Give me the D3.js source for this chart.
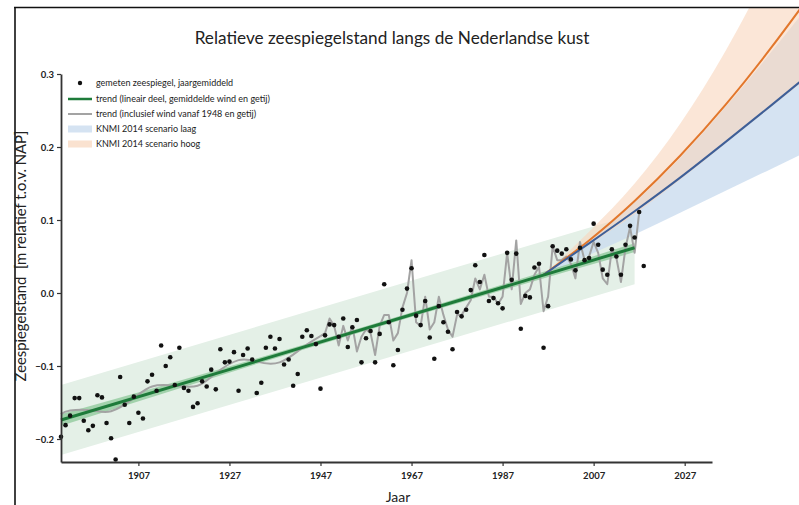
<!DOCTYPE html>
<html><head><meta charset="utf-8">
<script src="https://cdn.jsdelivr.net/npm/d3@7"></script>
<style>
body{margin:0;background:#fff;}
text{font-family:Lato,"Open Sans",sans-serif;}
</style></head>
<body><svg id="c" width="799" height="505"></svg>
<script>
// ---------- DATA ----------
const firstYear = 1890;
// annual mean sea level (m relative to NAP), 1890..2018
const measured = [
-0.197,-0.181,-0.168,-0.144,-0.144,-0.175,-0.188,-0.182,-0.140,-0.143,
-0.178,-0.199,-0.228,-0.115,-0.153,-0.178,-0.142,-0.164,-0.172,-0.121,
-0.112,-0.134,-0.072,-0.100,-0.088,-0.126,-0.075,-0.130,-0.134,-0.156,
-0.151,-0.121,-0.128,-0.105,-0.132,-0.077,-0.095,-0.094,-0.081,-0.134,
-0.085,-0.076,-0.091,-0.137,-0.123,-0.075,-0.060,-0.076,-0.063,-0.098,
-0.091,-0.127,-0.111,-0.060,-0.051,-0.059,-0.070,-0.131,-0.058,-0.043,
-0.044,-0.060,-0.035,-0.074,-0.047,-0.037,-0.095,-0.062,-0.052,-0.095,
-0.056, 0.012,-0.040,-0.099,-0.078,-0.023, 0.006, 0.034,-0.031,-0.044,
-0.011,-0.061,-0.090,-0.018,-0.040,-0.053,-0.077,-0.026,-0.032,-0.023,
 0.004, 0.038, 0.015, 0.052,-0.011,-0.007,-0.014,-0.021, 0.055, 0.018,
 0.054,-0.049,-0.004,-0.006, 0.035, 0.040,-0.075,-0.018, 0.064, 0.058,
 0.054, 0.060, 0.046, 0.031, 0.062, 0.045, 0.048, 0.095, 0.066, 0.032,
 0.025, 0.060, 0.050, 0.025, 0.066, 0.092, 0.076, 0.111, 0.037];

// linear trend (end points) and its band
const trendYears = [1890, 2016];
const trendValues = [-0.174, 0.062];
const trendBandLow = [-0.222, 0.012];
const trendBandHigh = [-0.126, 0.108];
const trendConfYears = [1890, 1950, 2016];
const trendConfHalf = [0.008, 0.003, 0.006];

// trend including nodal cycle (smooth before 1948) and wind (from 1948)
const nodalYears = [1890,1892,1897,1901,1906,1910,1915,1920,1924,1929,1933,1938,1943,1947];
const nodalValues = [-0.166,-0.161,-0.161,-0.162,-0.144,-0.128,-0.127,-0.127,-0.110,-0.092,-0.094,-0.095,-0.075,-0.059];
const windFirstYear = 1948;
const windValues = [
-0.055,-0.035,-0.045,-0.072,-0.045,-0.065,-0.045,-0.080,-0.060,-0.050,
-0.055,-0.085,-0.045,-0.030,-0.030,-0.065,-0.055,-0.020, 0.000, 0.045,
-0.040,-0.045,-0.005,-0.050,-0.040,-0.005,-0.030,-0.050,-0.060,-0.030,
-0.030,-0.020,-0.010, 0.020, 0.005, 0.025,-0.005,-0.005,-0.015,-0.005,
 0.055, 0.005, 0.072,-0.015, 0.000, 0.005, 0.025, 0.036,-0.025,-0.005,
 0.064, 0.045, 0.045, 0.050, 0.040, 0.020, 0.070, 0.045, 0.050, 0.070,
 0.055, 0.020, 0.012, 0.060, 0.048, 0.015, 0.062, 0.090, 0.055, 0.110];

// KNMI 2014 scenarios
const scenYears = [1996, 2006, 2016, 2026, 2036, 2046, 2056];
const lowMid  = [0.025, 0.068, 0.112, 0.158, 0.207, 0.257, 0.308];
const lowMin  = [0.025, 0.052, 0.080, 0.110, 0.140, 0.170, 0.200];
const lowMax  = [0.025, 0.073, 0.124, 0.185, 0.255, 0.330, 0.408];
const highMid = [0.025, 0.072, 0.126, 0.188, 0.258, 0.336, 0.420];
const highMin = [0.025, 0.066, 0.108, 0.155, 0.205, 0.255, 0.305];
const highMax = [0.025, 0.084, 0.150, 0.232, 0.332, 0.450, 0.585];

const xTicks = [1907, 1927, 1947, 1967, 1987, 2007, 2027];
const yTicks = [-0.2, -0.1, 0.0, 0.1, 0.2, 0.3];

const title = "Relatieve zeespiegelstand langs de Nederlandse kust";
const xLabel = "Jaar";
const yLabel = "Zeespiegelstand\u00A0\u00A0[m relatief t.o.v. NAP]";
const legendLabels = ["gemeten zeespiegel, jaargemiddeld",
  "trend (lineair deel, gemiddelde wind en getij)",
  "trend (inclusief wind vanaf 1948 en getij)",
  "KNMI 2014 scenario laag",
  "KNMI 2014 scenario hoog"];

// ---------- DRAW ----------
const svg = d3.select("#c");
const x = d3.scaleLinear().domain([1890, 2033]).range([61, 712]);
const y = d3.scaleLinear().domain([-0.2315, 0.3]).range([462, 74]);

const C = {green:"#1e7b3a", band:"#e4f0e7", conf:"#86c493", grey:"#a3a3a3",
  orange:"#e2772c", blue:"#3e5f98", oBand:"#f8d5bc", bBand:"#cadcef"};

svg.append("defs").append("clipPath").attr("id","clip")
  .append("rect").attr("x",16).attr("y",8).attr("width",790).attr("height",460);
const g = svg.append("g").attr("clip-path","url(#clip)");

// frame
svg.append("line").attr("x1",14).attr("x2",799).attr("y1",7.5).attr("y2",7.5).attr("stroke","#111").attr("stroke-width",1.6);
svg.append("line").attr("x1",15).attr("x2",15).attr("y1",7).attr("y2",505).attr("stroke","#111").attr("stroke-width",1.6);

// trend band
const tb = trendYears.map((yr,i)=>({yr, lo:trendBandLow[i], hi:trendBandHigh[i]}));
g.append("path").datum(tb).attr("fill",C.band)
  .attr("d", d3.area().x(d=>x(d.yr)).y0(d=>y(d.lo)).y1(d=>y(d.hi)));

// scenario bands
function band(lo, hi, col, op){
  const d = scenYears.map((yr,i)=>({yr, lo:lo[i], hi:hi[i]}));
  g.append("path").datum(d).attr("fill",col).attr("opacity",op)
   .attr("d", d3.area().curve(d3.curveMonotoneX).x(d=>x(d.yr)).y0(d=>y(d.lo)).y1(d=>y(d.hi)));
}
band(lowMin, lowMax, C.bBand, 0.8);
band(highMin, highMax, C.oBand, 0.6);

// trend confidence halo
const trendAt = yr => trendValues[0] + (trendValues[1]-trendValues[0])*(yr-trendYears[0])/(trendYears[1]-trendYears[0]);
const conf = trendConfYears.map((yr,i)=>({yr, lo:trendAt(yr)-trendConfHalf[i], hi:trendAt(yr)+trendConfHalf[i]}));
g.append("path").datum(conf).attr("fill",C.conf).attr("opacity",0.7)
  .attr("d", d3.area().curve(d3.curveMonotoneX).x(d=>x(d.yr)).y0(d=>y(d.lo)).y1(d=>y(d.hi)));

// grey trend line
const greyPts = nodalYears.map((yr,i)=>({yr, v:nodalValues[i]}));
g.append("path").datum(greyPts).attr("fill","none").attr("stroke",C.grey).attr("stroke-width",2)
  .attr("d", d3.line().curve(d3.curveNatural).x(d=>x(d.yr)).y(d=>y(d.v)));
const windPts = [{yr:1947, v:nodalValues[nodalValues.length-1]}].concat(windValues.map((v,i)=>({yr:windFirstYear+i, v})));
g.append("path").datum(windPts).attr("fill","none").attr("stroke",C.grey).attr("stroke-width",2)
  .attr("stroke-linejoin","round")
  .attr("d", d3.line().x(d=>x(d.yr)).y(d=>y(d.v)));

// scenario lines
function sline(vals, col){
  g.append("path").datum(scenYears.map((yr,i)=>({yr, v:vals[i]}))).attr("fill","none")
   .attr("stroke",col).attr("stroke-width",2)
   .attr("d", d3.line().curve(d3.curveNatural).x(d=>x(d.yr)).y(d=>y(d.v)));
}
sline(highMid, C.orange);
sline(lowMid, C.blue);

// green trend
g.append("path").datum(trendYears.map((yr,i)=>({yr, v:trendValues[i]}))).attr("fill","none")
  .attr("stroke",C.green).attr("stroke-width",3)
  .attr("d", d3.line().x(d=>x(d.yr)).y(d=>y(d.v)));

// dots
g.selectAll("circle.pt").data(measured).join("circle").attr("class","pt")
  .attr("cx",(d,i)=>x(firstYear+i)).attr("cy",d=>y(d)).attr("r",2.3).attr("fill","#111");

// axes
const fmtY = d => d === 0 ? "0.0" : (d<0 ? "\u2212" + Math.abs(d).toFixed(1) : d.toFixed(1));
const ya = svg.append("g").attr("transform","translate(61,0)")
  .call(d3.axisLeft(y).tickValues(yTicks).tickFormat(fmtY).tickSize(4).tickSizeOuter(0));
const xa = svg.append("g").attr("transform","translate(0,462)")
  .call(d3.axisBottom(x).tickValues(xTicks).tickFormat(d3.format("d")).tickSize(4).tickSizeOuter(0));
[ya, xa].forEach(a=>{
  a.select(".domain").attr("stroke","#333").attr("stroke-width",1.8);
  a.selectAll(".tick line").attr("stroke","#333").attr("stroke-width",1.2);
  a.selectAll(".tick text").attr("fill","#222").attr("font-size",9.5).attr("font-weight","bold")
    .attr("font-family","Lato, sans-serif");
});
xa.selectAll(".tick text").attr("dy","1.1em");

// titles
svg.append("text").attr("x",392).attr("y",44).attr("text-anchor","middle")
  .attr("font-size",17.2).attr("fill","#222").text(title);
svg.append("text").attr("x",398).attr("y",502).attr("text-anchor","middle")
  .attr("font-size",14).attr("fill","#222").text(xLabel);
svg.append("text").attr("transform","translate(26,256) rotate(-90)").attr("text-anchor","middle")
  .attr("font-size",14.8).attr("fill","#222").text(yLabel);

// legend
const ly = [83, 99, 114, 129, 144];
const lg = svg.append("g");
lg.append("circle").attr("cx",80).attr("cy",ly[0]).attr("r",2.2).attr("fill","#111");
lg.append("line").attr("x1",68).attr("x2",92).attr("y1",ly[1]).attr("y2",ly[1]).attr("stroke",C.green).attr("stroke-width",2.5);
lg.append("line").attr("x1",68).attr("x2",92).attr("y1",ly[2]).attr("y2",ly[2]).attr("stroke",C.grey).attr("stroke-width",2);
lg.append("rect").attr("x",68).attr("y",ly[3]-3.5).attr("width",24).attr("height",7).attr("fill",C.bBand).attr("opacity",0.8);
lg.append("rect").attr("x",68).attr("y",ly[4]-3.5).attr("width",24).attr("height",7).attr("fill",C.oBand).attr("opacity",0.7);
lg.selectAll("text").data(legendLabels).join("text").attr("x",96).attr("y",(d,i)=>ly[i]+3)
  .attr("font-size",9).attr("fill","#222").text(d=>d);
</script></body></html>
